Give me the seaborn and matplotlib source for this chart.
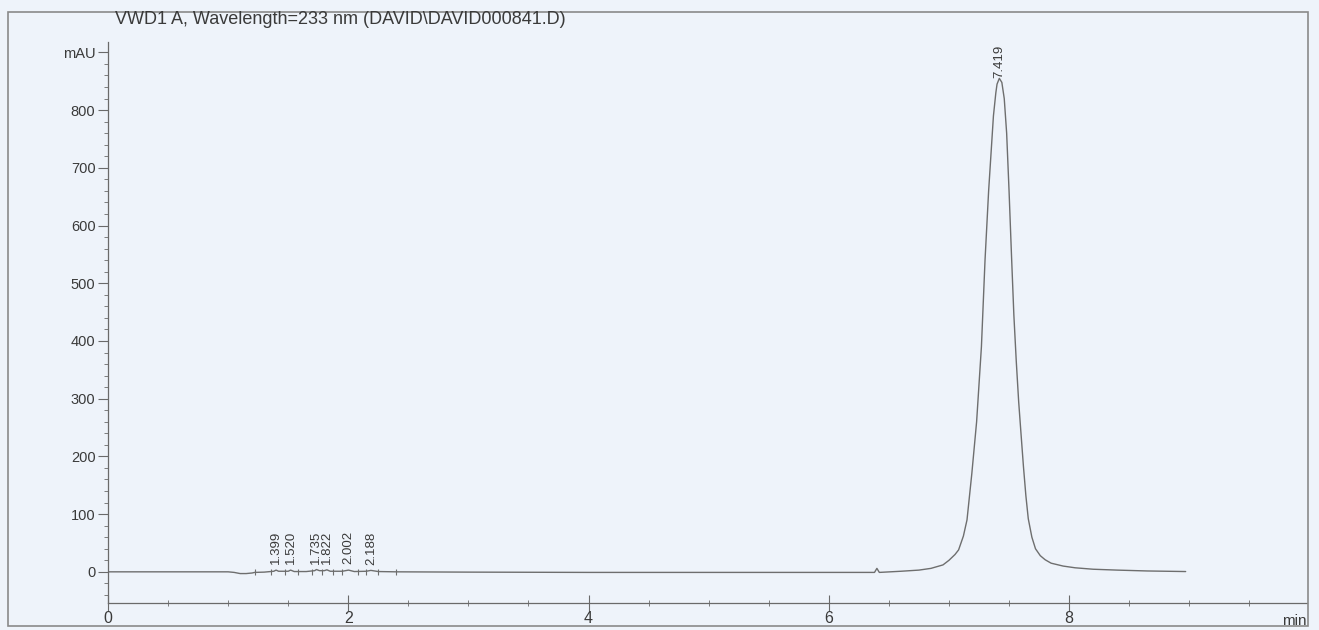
import matplotlib
matplotlib.use("Agg")
import matplotlib.pyplot as plt
from matplotlib.ticker import MultipleLocator, FixedLocator
from matplotlib.patches import Rectangle
import seaborn as sns
import pandas as pd

# ---- data ----
title_text = "VWD1 A, Wavelength=233 nm (DAVID\\DAVID000841.D)"

time_min = [0.00, 0.50, 1.00, 1.05, 1.10, 1.15, 1.20, 1.22, 1.30, 1.38, 1.399, 1.42,
            1.50, 1.52, 1.55, 1.65, 1.72, 1.735, 1.76, 1.80, 1.822, 1.85, 1.95, 2.002,
            2.05, 2.15, 2.188, 2.25, 2.40, 3.00, 4.00, 5.00, 6.00, 6.38, 6.40, 6.42,
            6.60, 6.75, 6.85, 6.95, 7.00, 7.05, 7.08, 7.12, 7.15, 7.19, 7.23, 7.27,
            7.30, 7.33, 7.35, 7.37, 7.39, 7.40, 7.419, 7.44, 7.46, 7.48, 7.50, 7.52,
            7.54, 7.56, 7.58, 7.60, 7.62, 7.64, 7.66, 7.69, 7.72, 7.76, 7.80, 7.85, 7.95,
            8.05, 8.20, 8.40, 8.65, 8.97]
signal_mau = [0.0, 0.0, 0.0, -1.0, -3.0, -3.0, -2.0, -1.0, -0.5, 1.0, 3.0, 1.0,
              1.0, 3.0, 0.5, 0.5, 2.0, 4.0, 2.0, 2.0, 3.5, 1.0, 1.0, 3.0,
              0.5, 1.0, 2.5, 0.5, 0.0, -0.5, -1.0, -1.0, -1.0, -1.0, 6.0, -1.0,
              1.0, 3.0, 6.0, 12.0, 20.0, 30.0, 38.0, 62.0, 90.0, 170.0, 260.0, 390.0,
              540.0, 660.0, 725.0, 790.0, 830.0, 845.0, 855.0, 848.0, 820.0, 760.0, 660.0, 550.0,
              445.0, 365.0, 295.0, 238.0, 182.0, 132.0, 92.0, 60.0, 40.0, 28.0, 21.0, 15.0, 10.0,
              7.0, 4.5, 3.0, 1.5, 0.5]

peak_times = [1.399, 1.520, 1.735, 1.822, 2.002, 2.188, 7.419]
peak_labels = ["1.399", "1.520", "1.735", "1.822", "2.002", "2.188", "7.419"]
peak_heights = [3.0, 3.0, 4.0, 3.5, 3.0, 2.5, 855.0]

marker_times = [1.22, 1.36, 1.47, 1.58, 1.70, 1.78, 1.87, 1.95, 2.08, 2.15, 2.25, 2.40]

y_ticks = [0, 100, 200, 300, 400, 500, 600, 700, 800]
x_ticks = [0, 2, 4, 6, 8]

# ---- styling ----
bg = "#eef3fa"
line_col = "#6e6e6e"
text_col = "#3a3a3a"

sns.set_theme(style="white")
plt.rcParams["font.family"] = ["Liberation Sans", "DejaVu Sans"]

fig = plt.figure(figsize=(13.19, 6.30), dpi=100, facecolor=bg)
ax = fig.add_axes([108 / 1319, 27 / 630, (1307 - 108) / 1319, (603 - 42) / 630])
ax.set_facecolor(bg)

df = pd.DataFrame({"time": time_min, "signal": signal_mau})
sns.lineplot(data=df, x="time", y="signal", ax=ax, color=line_col,
             linewidth=1.0, sort=False, estimator=None)

# baseline event marks
ax.plot(marker_times, [0] * len(marker_times), linestyle="none", marker="|",
        markersize=5, color=line_col, markeredgewidth=0.8)

# peak retention-time labels
for t, lab, h in zip(peak_times, peak_labels, peak_heights):
    off = 10 if h < 100 else 0
    ax.text(t, h + off, lab, rotation=90, ha="center", va="bottom",
            fontsize=9.5, color=text_col)

ax.set_xlim(0, 9.98)
ax.set_ylim(-54, 918)

for s in ["top", "right"]:
    ax.spines[s].set_visible(False)
for s in ["left", "bottom"]:
    ax.spines[s].set_color("#6a6a6a")
    ax.spines[s].set_linewidth(0.9)

ax.yaxis.set_major_locator(FixedLocator(y_ticks + [900]))
ax.set_yticklabels([str(v) for v in y_ticks] + ["mAU"])
ax.yaxis.set_minor_locator(MultipleLocator(20))
ax.xaxis.set_major_locator(FixedLocator(x_ticks))
ax.xaxis.set_minor_locator(MultipleLocator(0.5))

ax.tick_params(axis="y", which="major", direction="out", length=7, width=0.8,
               color="#6a6a6a", labelsize=10.5, labelcolor=text_col, pad=2, left=True)
ax.tick_params(axis="y", which="minor", direction="out", length=3, width=0.6,
               color="#6a6a6a", left=True)
ax.tick_params(axis="x", which="major", direction="inout", length=12, width=0.8,
               color="#6a6a6a", labelsize=11.5, labelcolor=text_col, pad=0, bottom=True)
ax.tick_params(axis="x", which="minor", direction="inout", length=5, width=0.6,
               color="#6a6a6a", bottom=True)
ax.set_xlabel("")
ax.set_ylabel("")

ax.text(1.0, -0.02, "min", transform=ax.transAxes, ha="right", va="top",
        fontsize=11, color=text_col)

fig.text(115 / 1319, 1 - 20 / 630, title_text, ha="left", va="center",
         fontsize=13, color=text_col)

# outer frame
fig.patches.append(Rectangle((8 / 1319, 4 / 630), (1308 - 8) / 1319, (618 - 4) / 630,
                             transform=fig.transFigure, fill=False,
                             edgecolor="#8a8a8a", linewidth=1.2))

fig.savefig("out.png", dpi=100, facecolor=bg)
